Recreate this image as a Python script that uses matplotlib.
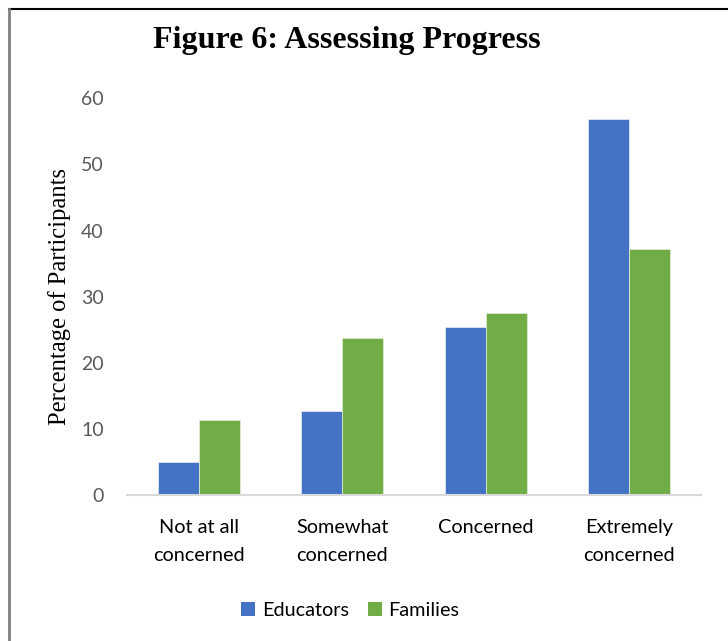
import matplotlib
matplotlib.use("Agg")
import matplotlib.pyplot as plt
import numpy as np
from matplotlib.patches import Patch

categories = ["Not at all\nconcerned", "Somewhat\nconcerned", "Concerned", "Extremely\nconcerned"]
series_names = ["Educators", "Families"]
educators = [5.0, 12.8, 25.4, 56.8]
families = [11.4, 23.8, 27.5, 37.2]
y_ticks = [0, 10, 20, 30, 40, 50, 60]

blue = "#4472C4"
green = "#70AD47"

fig = plt.figure(figsize=(7.28, 6.41), dpi=100)
ax = fig.add_axes([0.1749, 0.2270, 0.9625 - 0.1749, 0.8471 - 0.2270])

x = np.arange(len(categories))
w = 0.286
ax.bar(x - w / 2, educators, width=w, color=blue, edgecolor="#dfe6f5", linewidth=0.6, label=series_names[0])
ax.bar(x + w / 2, families, width=w, color=green, edgecolor="#dcebd2", linewidth=0.6, label=series_names[1])

ax.set_xlim(-0.5, len(categories) - 0.5)
ax.set_ylim(0, 60)
ax.set_yticks(y_ticks)
ax.set_yticklabels([str(t) for t in y_ticks], fontsize=14, color="#595959", family="Lato")
ax.set_xticks(x)
ax.set_xticklabels(categories, fontsize=14.3, color="#000000", family="Lato", linespacing=1.75)
ax.tick_params(axis="both", length=0)
ax.tick_params(axis="y", pad=17)
ax.tick_params(axis="x", pad=17)

for side in ["top", "right", "left"]:
    ax.spines[side].set_visible(False)
ax.spines["bottom"].set_color("#d9d9d9")
ax.spines["bottom"].set_linewidth(1.5)

fig.text(0.0824, 0.537, "Percentage of Participants", rotation=90, ha="center", va="center",
         fontsize=17.7, family="Liberation Serif", color="#000000")
fig.text(0.477, 0.937, "Figure 6: Assessing Progress", ha="center", va="center",
         fontsize=23, fontweight="bold", family="Liberation Serif", color="#000000")

handles = [Patch(facecolor=blue), Patch(facecolor=green)]
fig.legend(handles, series_names, loc="center", bbox_to_anchor=(0.481, 0.048), ncol=2,
           frameon=False, prop={"family": "Lato", "size": 14.3}, handlelength=0.7, handleheight=0.7,
           handletextpad=0.35, columnspacing=0.95)

# border lines along the top and left edges
fig.add_artist(plt.Line2D([0.0130, 1.0], [0.986, 0.986], color="#000000", linewidth=1.5,
                          transform=fig.transFigure))
fig.add_artist(plt.Line2D([0.0130, 0.0130], [0.0, 0.986], color="#808080", linewidth=2,
                          transform=fig.transFigure))

fig.savefig("out.png", dpi=100)
